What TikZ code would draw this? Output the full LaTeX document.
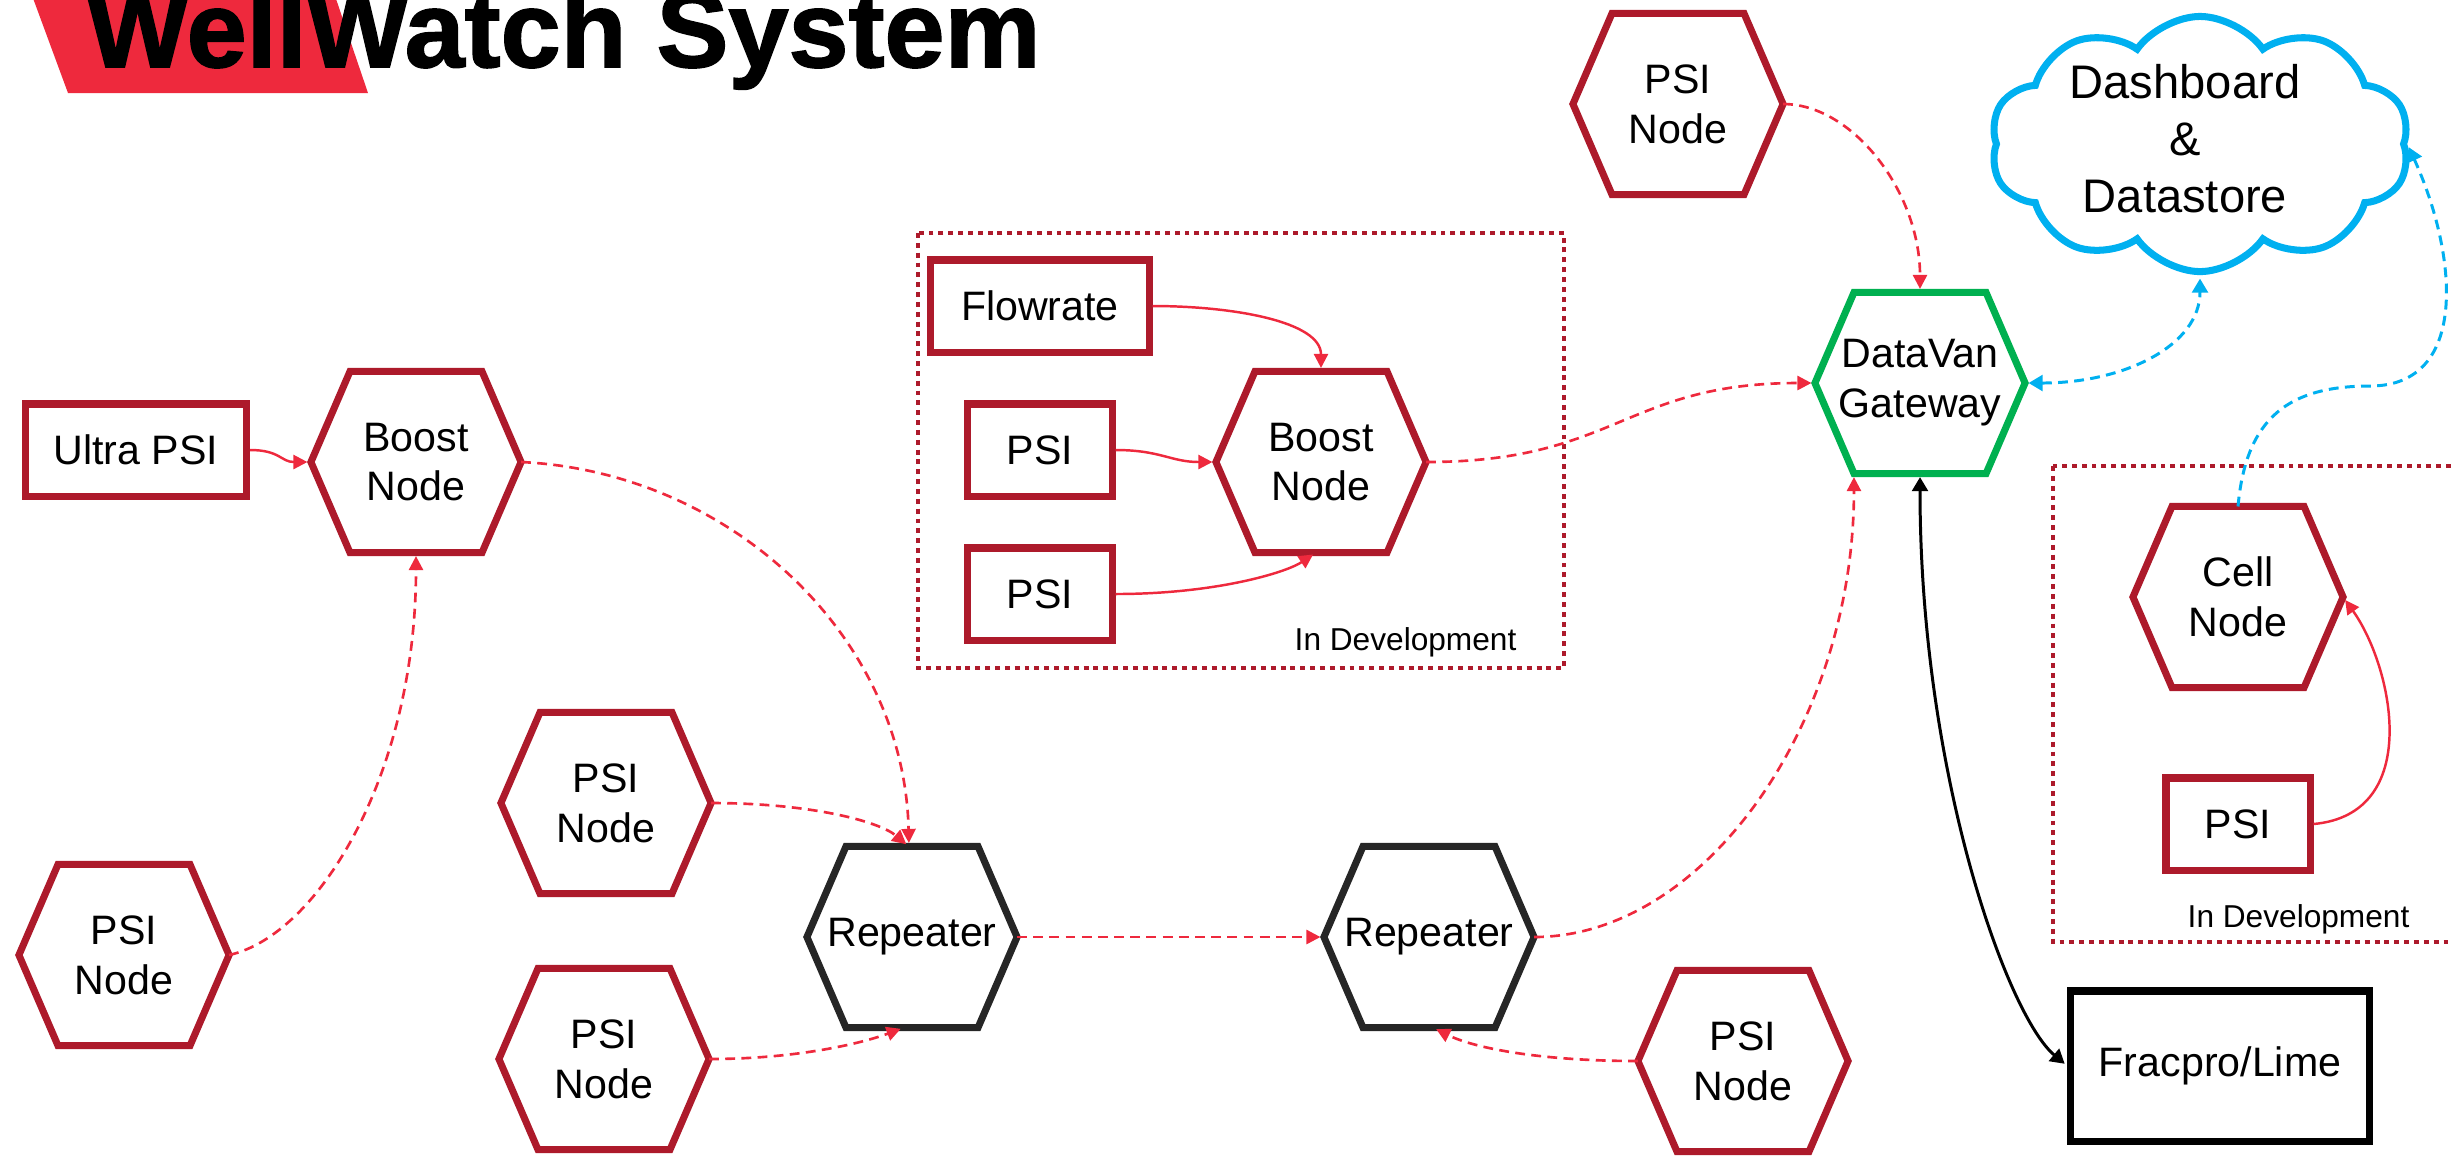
\documentclass[tikz,border=0pt]{standalone}
\usepackage{fontspec}
\setmainfont{Liberation Sans}
\newfontfamily\heavyfont[FakeBold=1.5]{Liberation Sans Bold}
\usetikzlibrary{arrows.meta,shapes.symbols}

\definecolor{nodered}{RGB}{173,26,43}
\definecolor{linkred}{RGB}{238,41,61}
\definecolor{repgray}{RGB}{38,38,38}
\definecolor{gwgreen}{RGB}{0,176,80}
\definecolor{cloudblue}{RGB}{0,176,240}

\begin{document}
\begin{tikzpicture}[x=0.01cm, y=-0.01cm,
  hexbox/.style={minimum width=2.10cm, minimum height=1.81cm, inner sep=0pt, outer sep=0pt,
    align=center, font=\fontsize{11.7pt}{14.2pt}\selectfont},
  hexline/.style={line width=2pt},
  sensor/.style={draw=nodered, line width=2pt, minimum width=1.44cm, minimum height=0.92cm,
    inner sep=0pt, font=\fontsize{11.7pt}{14.2pt}\selectfont},
  devbox/.style={draw=nodered, line width=1.4pt, dash pattern=on 1.4pt off 1.4pt},
  devlabel/.style={font=\fontsize{9pt}{10pt}\selectfont, anchor=base west, inner sep=0pt},
  radio/.style={draw=linkred, line width=0.75pt, dash pattern=on 2.8pt off 1.8pt,
    -{Triangle[length=4pt,width=4pt]}, shorten >=1pt},
  wired/.style={draw=linkred, line width=0.7pt, -{Triangle[length=4pt,width=4pt]}, shorten >=1pt},
  uplink/.style={draw=cloudblue, line width=0.85pt, dash pattern=on 2.8pt off 1.8pt,
    -{Triangle[length=4pt,width=4.5pt]}, shorten >=1pt},
  export/.style={draw=black, line width=0.85pt,
    {Triangle[length=4pt,width=4.5pt]}-{Triangle[length=4pt,width=4.5pt]}, shorten >=1pt, shorten <=1pt}]
  \clip (0,0) rectangle (2451,1156);

  % title
  \fill[linkred] (30,-10) -- (68,93) -- (368,93) -- (333,-10) -- cycle;
  \node[font=\fontsize{30.7pt}{32pt}\heavyfont, anchor=base west, inner sep=0pt] (title) at (86,67) {WellWatch System};

  % development areas
  \draw[devbox] (918,233) rectangle (1564,668);
  \draw[devbox] (2053,466) rectangle (2480,942);
  \node[devlabel] (devA) at (1294,650) {In Development};
  \node[devlabel] (devB) at (2187,927) {In Development};

  % hexagon nodes
  \node[hexbox] (boostA) at (416,462) {Boost\\Node};
  \node[hexbox] (psiA) at (124,955) {PSI\\Node};
  \node[hexbox] (boostB) at (1321,462) {Boost\\Node};
  \node[hexbox] (gw) at (1920,383) {DataVan\\Gateway};
  \node[hexbox] (psiTop) at (1678,104) {PSI\\Node};
  \node[hexbox] (psiB) at (606,803) {PSI\\Node};
  \node[hexbox] (psiC) at (604,1059) {PSI\\Node};
  \node[hexbox] (rep1) at (912,937) {Repeater};
  \node[hexbox] (rep2) at (1429,937) {Repeater};
  \node[hexbox] (psiD) at (1743,1061) {PSI\\Node};
  \node[hexbox] (cell) at (2238,597) {Cell\\Node};
  \foreach \n/\c in {boostA/nodered, psiA/nodered, boostB/nodered, psiTop/nodered, psiB/nodered,
      psiC/nodered, psiD/nodered, cell/nodered, rep1/repgray, rep2/repgray, gw/gwgreen}
    \draw[hexline, draw=\c] (\n.west) -- ([xshift=0.39cm]\n.north west) -- ([xshift=-0.39cm]\n.north east)
      -- (\n.east) -- ([xshift=-0.39cm]\n.south east) -- ([xshift=0.39cm]\n.south west) -- cycle;

  % sensors
  \node[sensor, minimum width=2.21cm] (ultra) at (136,450) {Ultra PSI};
  \node[sensor, minimum width=2.18cm] (flow) at (1040,306) {Flowrate};
  \node[sensor] (psiR1) at (1040,450) {PSI};
  \node[sensor] (psiR2) at (1040,594) {PSI};
  \node[sensor] (psiR3) at (2238,824) {PSI};
  \node[sensor, draw=black, minimum width=2.98cm, minimum height=1.50cm] (frac) at (2220,1066) {Fracpro/Lime};

  % cloud
  \node[cloud, draw=cloudblue, line width=2pt, cloud puffs=10, cloud puff arc=110, cloud ignores aspect,
    minimum width=4.19cm, minimum height=2.55cm, inner sep=0pt] (cloud) at (2200,144) {};
  \node[align=center, inner sep=0pt, font=\fontsize{13.4pt}{16.2pt}\selectfont] (cloudtxt) at (2185,139)
    {Dashboard\\\&\\Datastore};

  \coordinate (gwcorner) at ([xshift=0.39cm]gw.south west);

  % wired links
  \draw[wired] (ultra.east) .. controls +(30,0) and +(-30,0) .. (boostA.west);
  \draw[wired] (flow.east) .. controls +(80,0) and +(0,-50) .. (boostB.north);
  \draw[wired] (psiR1.east) .. controls +(45,0) and +(-45,0) .. (boostB.west);
  \draw[wired] (psiR2.east) .. controls +(100,0) and +(-30,20) .. ([xshift=-0.05cm]boostB.south);
  \draw[wired] (psiR3.east) .. controls +(110,-10) and +(50,70) .. (cell.east);

  % radio links
  \draw[radio] (psiA.east) .. controls +(90,-20) and +(0,220) .. (boostA.south);
  \draw[radio] (boostA.east) .. controls +(210,10) and +(-5,-210) .. ([xshift=-0.03cm]rep1.north);
  \draw[radio] (psiB.east) .. controls +(100,0) and +(-30,-25) .. ([xshift=-0.03cm]rep1.north);
  \draw[radio] (psiC.east) .. controls +(90,0) and +(-40,15) .. ([xshift=-0.08cm]rep1.south);
  \draw[radio] (rep1.east) -- (rep2.west);
  \draw[radio] (psiD.west) .. controls +(-100,0) and +(40,20) .. ([xshift=0.04cm]rep2.south);
  \draw[radio] (rep2.east) .. controls +(170,0) and +(0,250) .. (gwcorner);
  \draw[radio] (boostB.east) .. controls +(190,0) and +(-190,0) .. (gw.west);
  \draw[radio] (psiTop.east) .. controls +(70,0) and +(0,-100) .. (gw.north);

  % uplinks and export
  \draw[uplink, {Triangle[length=4pt,width=4.5pt]}-{Triangle[length=4pt,width=4.5pt]}, shorten <=1pt]
    (gw.east) .. controls +(100,0) and +(0,70) .. (cloud.south);
  \draw[uplink] (cell.north) .. controls +(8,-90) and +(-80,0) .. (2370,386)
    .. controls +(100,0) and +(50,110) .. (cloud.east);
  \draw[export] (gw.south) .. controls +(0,300) and +(-60,-50) .. (frac.west);
\end{tikzpicture}
\end{document}
